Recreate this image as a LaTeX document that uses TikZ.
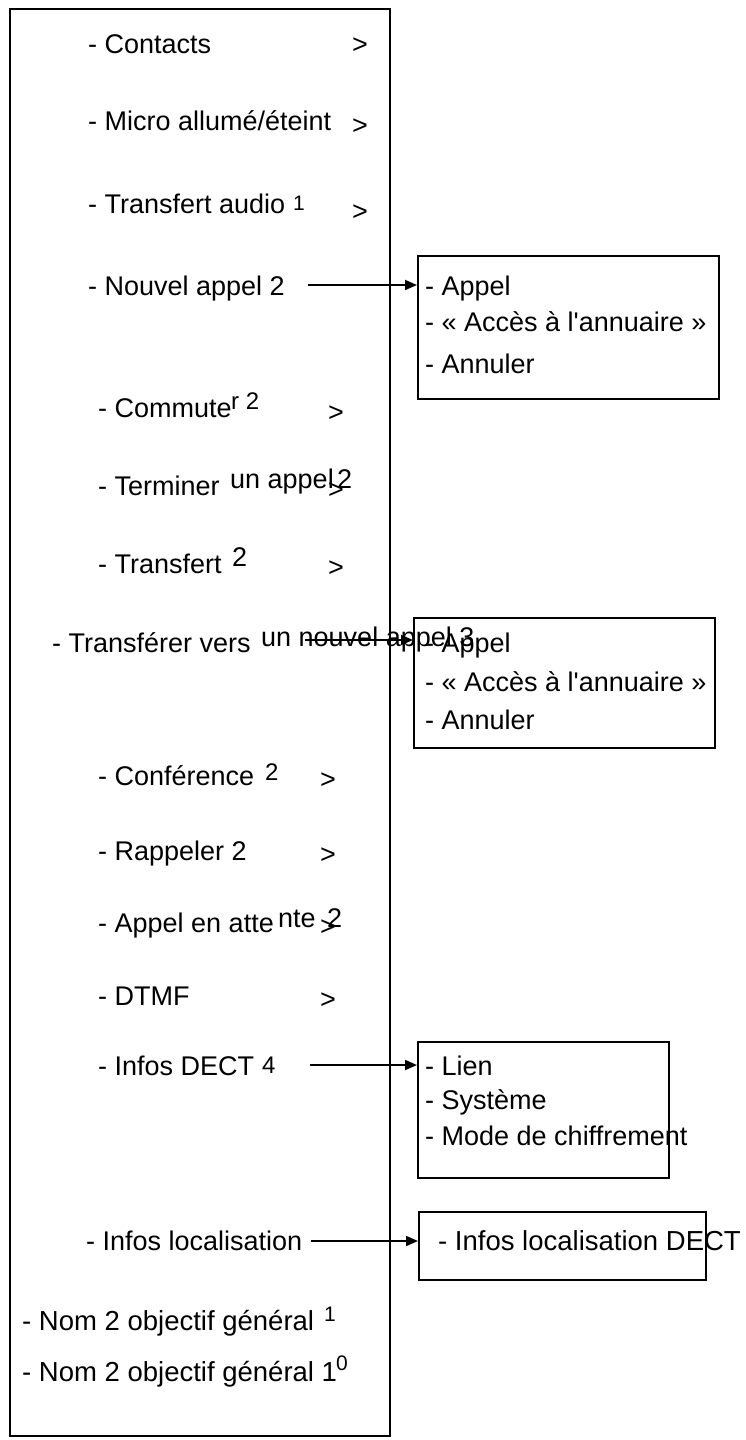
\documentclass[tikz,border=0pt]{standalone}
\usepackage{fontspec}
\setmainfont{Liberation Sans}[Ligatures=TeXOff]
\usetikzlibrary{arrows.meta}
\begin{document}
\begin{tikzpicture}[x=1pt,y=-1pt,
  lbl/.style={anchor=base west, inner sep=0pt, font=\fontsize{27}{32}\selectfont},
  lblbig/.style={anchor=base west, inner sep=0pt, font=\fontsize{27.5}{32}\selectfont},
  supa/.style={anchor=base west, inner sep=0pt, font=\fontsize{21}{24}\selectfont},
  supb/.style={anchor=base west, inner sep=0pt, font=\fontsize{24}{28}\selectfont},
  boxy/.style={draw, line width=2.2pt, anchor=north west, inner sep=0pt},
  arr/.style={line width=1.8pt, -{Triangle[length=12pt,width=10pt]}}]
\useasboundingbox (0,0) rectangle (746,1440);

% main frame
\node[boxy, minimum width=380pt, minimum height=1427pt] (main) at (9,8) {};

% sub boxes
\node[boxy, minimum width=301pt, minimum height=143pt] (b1) at (417,255) {};
\node[boxy, minimum width=301pt, minimum height=130pt] (b2) at (413,617) {};
\node[boxy, minimum width=251pt, minimum height=136pt] (b3) at (417,1041) {};
\node[boxy, minimum width=287pt, minimum height=68pt] (b4) at (418,1211) {};

% menu items
\node[lbl] (contacts) at (88,53) {- Contacts};
\node[lbl] (g1) at (352,53) {>};
\node[lbl] (micro) at (88,130) {- Micro allumé/éteint};
\node[lbl] (g2) at (352,134) {>};
\node[lbl] (taudio) at (88,213) {- Transfert audio};
\node[supa] (taudios) at (293,210) {1};
\node[lbl] (g3) at (352,220) {>};
\node[lbl] (nouvel) at (88,295) {- Nouvel appel 2};
\node[lbl] (commute) at (98,417) {- Commute};
\node[supb] (commutes) at (231,409) {r 2};
\node[lbl] (g5) at (328,421) {>};
\node[lbl] (terminer) at (98,495) {- Terminer};
\node[lbl] (g6) at (328,498) {>};
\node[lbl] (terminers) at (230,488) {un appel};
\node[lbl] (terminer2) at (337,488) {2};
\node[lbl] (transfert) at (98,573) {- Transfert};
\node[lbl] (transferts) at (232,566) {2};
\node[lbl] (g7) at (328,576) {>};
\node[lbl] (transferer) at (52,652) {- Transférer vers};
\node[lbl] (transferers) at (261,646) {un nouvel appel 3};
\node[lbl] (conf) at (98,785) {- Conférence};
\node[supb] (confs) at (265,780) {2};
\node[lbl] (g9) at (320,788) {>};
\node[lbl] (rappeler) at (98,860) {- Rappeler 2};
\node[lbl] (g10) at (320,863) {>};
\node[lbl] (attente) at (98,932) {- Appel en atte};
\node[lbl] (g11) at (320,935) {>};
\node[lbl] (attentes) at (278,927) {nte};
\node[lbl] (attente2) at (327,927) {2};
\node[lbl] (dtmf) at (98,1005) {- DTMF};
\node[lbl] (g12) at (320,1008) {>};
\node[lbl] (dect) at (98,1075) {- Infos DECT};
\node[supb] (dects) at (262,1073) {4};
\node[lbl] (loc) at (86,1250) {- Infos localisation};
\node[lblbig] (nom1) at (22,1330) {- Nom 2 objectif général};
\node[supa] (nom1s) at (324,1321) {1};
\node[lblbig] (nom2) at (22,1381) {- Nom 2 objectif général 1};
\node[supa] (nom2s) at (336,1370) {0};

% box contents
\node[lbl] (b1a) at (425,295) {- Appel};
\node[lbl] (b1b) at (425,331) {- « Accès à l'annuaire »};
\node[lbl] (b1c) at (425,373) {- Annuler};
\node[lbl] (b2a) at (425,652) {- Appel};
\node[lbl] (b2b) at (425,691) {- « Accès à l'annuaire »};
\node[lbl] (b2c) at (425,729) {- Annuler};
\node[lbl] (b3a) at (425,1075) {- Lien};
\node[lbl] (b3b) at (425,1109) {- Système};
\node[lbl] (b3c) at (425,1145) {- Mode de chiffrement};
\node[lblbig] (b4a) at (438,1250) {- Infos localisation DECT};

% arrows
\coordinate (s1) at (308,285);
\coordinate (s2) at (305,640);
\coordinate (s3) at (310,1065);
\coordinate (s4) at (311,1241);
\draw[arr] (s1) -- (s1 -| b1.west);
\draw[arr] (s2) -- (s2 -| b2.west);
\draw[arr] (s3) -- (s3 -| b3.west);
\draw[arr] (s4) -- (s4 -| b4.west);
\end{tikzpicture}
\end{document}
